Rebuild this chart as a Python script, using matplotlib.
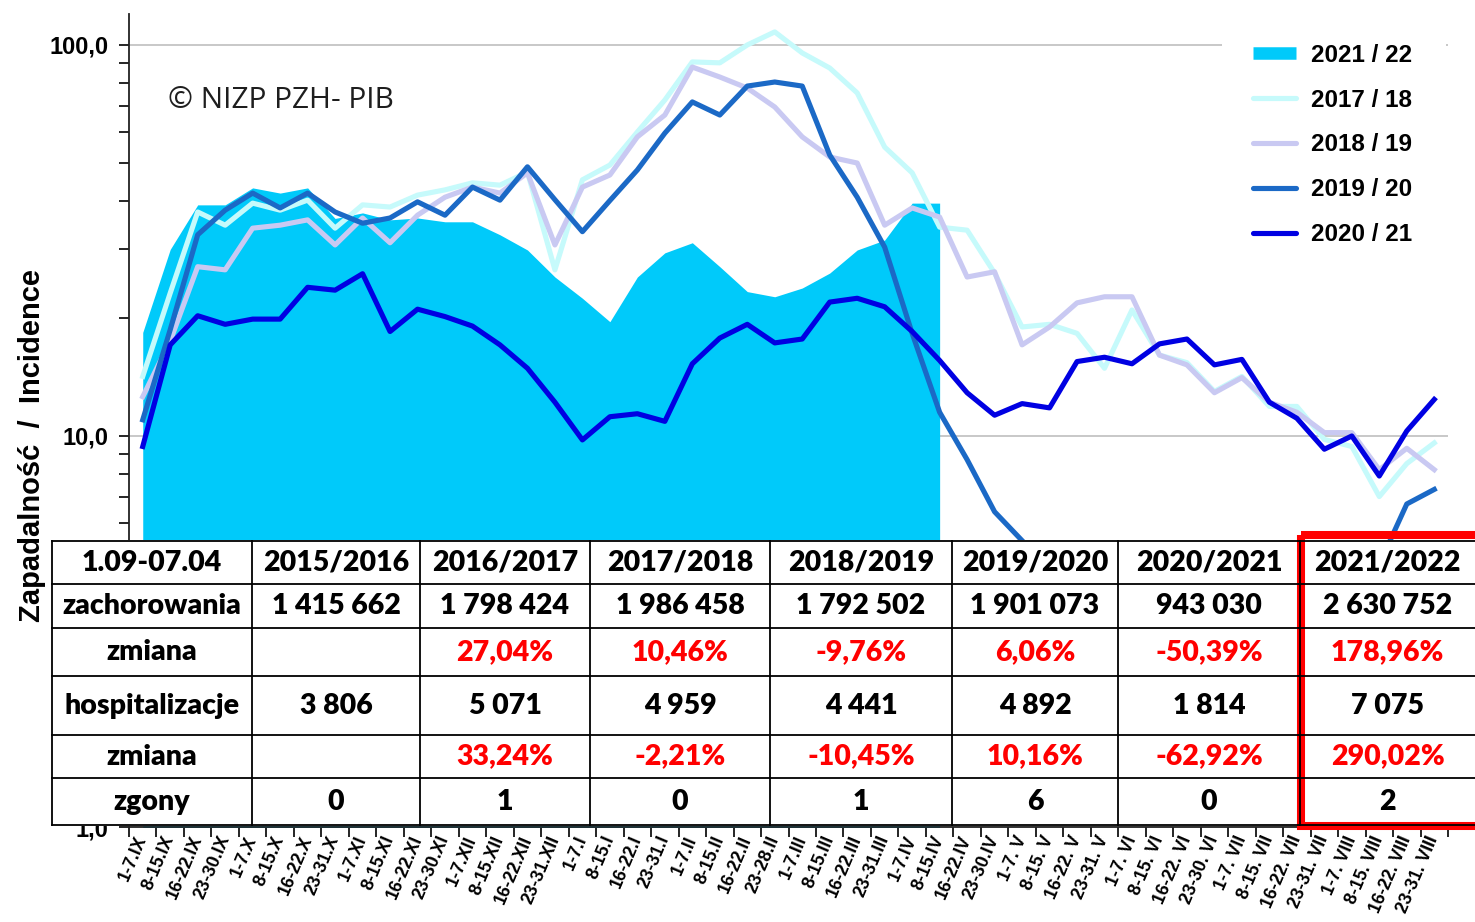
import numpy as np
import matplotlib
matplotlib.use("Agg")
import matplotlib.pyplot as plt
from matplotlib.lines import Line2D
from matplotlib.patches import Rectangle
from matplotlib.ticker import FixedLocator, LogLocator, FuncFormatter, NullFormatter

plt.rcParams["font.family"] = ["Liberation Sans", "DejaVu Sans"]
plt.rcParams["font.weight"] = "bold"

# weekly periods, 1 Sep .. 31 Aug
weeks = [
    "1-7.IX", "8-15.IX", "16-22.IX", "23-30.IX",
    "1-7.X", "8-15.X", "16-22.X", "23-31.X",
    "1-7.XI", "8-15.XI", "16-22.XI", "23-30.XI",
    "1-7.XII", "8-15.XII", "16-22.XII", "23-31.XII",
    "1-7.I", "8-15.I", "16-22.I", "23-31.I",
    "1-7.II", "8-15.II", "16-22.II", "23-28.II",
    "1-7.III", "8-15.III", "16-22.III", "23-31.III",
    "1-7.IV", "8-15.IV", "16-22.IV", "23-30.IV",
    "1-7. V", "8-15. V", "16-22. V", "23-31. V",
    "1-7. VI", "8-15. VI", "16-22. VI", "23-30. VI",
    "1-7. VII", "8-15. VII", "16-22. VII", "23-31. VII",
    "1-7. VIII", "8-15. VIII", "16-22. VIII", "23-31. VIII",
]

# incidence per 100 000
inc_2122 = [18.4, 30.0, 39.0, 39.0, 43.1, 41.8, 43.1, 36.0, 37.2, 35.7, 36.1, 35.3,
            35.3, 32.7, 29.9, 25.5, 22.5, 19.6, 25.5, 29.4, 31.2, 27.1, 23.4, 22.7,
            23.9, 26.1, 29.9, 31.7, 39.4, 39.4]
inc_1718 = [14.2, 23.2, 37.4, 34.6, 39.4, 37.8, 40.1, 34.0, 39.0, 38.5, 41.3, 42.6,
            44.4, 43.8, 47.3, 26.6, 45.2, 49.3, 59.9, 72.3, 90.5, 90.0, 100.0, 108.0,
            95.4, 87.3, 75.4, 54.8, 47.1, 34.2, 33.6, 26.1, 19.0, 19.3, 18.3, 14.9,
            21.0, 16.1, 15.4, 13.0, 14.2, 11.9, 11.9, 9.8, 9.4, 7.0, 8.5, 9.6]
inc_1819 = [12.6, 17.5, 27.1, 26.6, 34.0, 34.6, 35.7, 30.8, 36.1, 31.2, 36.7, 40.8,
            43.3, 41.8, 47.1, 30.8, 43.3, 46.5, 58.2, 66.2, 87.8, 82.8, 77.6, 69.4,
            58.2, 51.7, 49.9, 34.6, 38.3, 36.3, 25.5, 26.3, 17.1, 19.0, 21.9, 22.7,
            22.7, 16.1, 15.2, 12.9, 14.1, 12.2, 11.5, 10.2, 10.2, 8.2, 9.3, 8.2]
# values hidden under the table are left empty
inc_1920 = [11.0, 18.7, 32.7, 37.8, 41.8, 38.3, 41.8, 37.4, 35.0, 36.1, 39.7, 36.7,
            43.3, 40.1, 48.8, 40.2, 33.3, 40.0, 47.9, 59.5, 71.5, 66.2, 78.5, 80.4,
            78.5, 52.3, 40.8, 30.4, 18.3, 11.5, 8.7, 6.4, 5.4, np.nan, np.nan, np.nan,
            np.nan, np.nan, np.nan, np.nan, np.nan, np.nan, np.nan, np.nan, np.nan, 4.7, 6.7, 7.3]
inc_2021 = [9.4, 17.1, 20.3, 19.3, 19.9, 19.9, 24.0, 23.6, 26.0, 18.5, 21.1, 20.2,
            19.1, 17.1, 14.9, 12.2, 9.77, 11.2, 11.4, 10.9, 15.3, 17.8, 19.3, 17.3,
            17.7, 22.0, 22.5, 21.4, 18.5, 15.6, 12.9, 11.3, 12.1, 11.8, 15.5, 15.9,
            15.3, 17.2, 17.7, 15.2, 15.7, 12.2, 11.1, 9.25, 10.0, 7.9, 10.3, 12.4]

# summary table
row_names = ["1.09-07.04", "zachorowania", "zmiana", "hospitalizacje", "zmiana", "zgony"]
seasons = ["2015/2016", "2016/2017", "2017/2018", "2018/2019", "2019/2020", "2020/2021", "2021/2022"]
cases = ["1 415 662", "1 798 424", "1 986 458", "1 792 502", "1 901 073", "943 030", "2 630 752"]
cases_change = ["", "27,04%", "10,46%", "-9,76%", "6,06%", "-50,39%", "178,96%"]
hosp = ["3 806", "5 071", "4 959", "4 441", "4 892", "1 814", "7 075"]
hosp_change = ["", "33,24%", "-2,21%", "-10,45%", "10,16%", "-62,92%", "290,02%"]
deaths = ["0", "1", "0", "1", "6", "0", "2"]

c_area = "#00CAFA"
c_1718 = "#C6FAFB"
c_1819 = "#C9C9F2"
c_1920 = "#1B69C6"
c_2021 = "#0000E2"

W, H = 1475, 922
fig = plt.figure(figsize=(W / 100, H / 100), dpi=100)
ax = fig.add_axes([129 / W, 1 - 827 / H, (1448 - 129) / W, (827 - 14) / H])

x = np.arange(len(weeks))
ax.fill_between(x[:len(inc_2122)], inc_2122, 0.5, color=c_area, lw=0, zorder=2)
lw = 3.7
ax.plot(x, inc_1718, color=c_1718, lw=lw, zorder=3)
ax.plot(x, inc_1819, color=c_1819, lw=lw, zorder=4)
ax.plot(x, inc_1920, color=c_1920, lw=lw, zorder=5)
ax.plot(x, inc_2021, color=c_2021, lw=lw, zorder=6)

ax.set_yscale("log")
ax.set_ylim(1, 120)
ax.set_xlim(-0.5, len(weeks) - 0.5)
ax.yaxis.set_major_locator(FixedLocator([1, 10, 100]))
ax.yaxis.set_major_formatter(FuncFormatter(lambda v, p: f"{v:.1f}".replace(".", ",")))
ax.yaxis.set_minor_locator(LogLocator(base=10, subs=range(2, 10)))
ax.yaxis.set_minor_formatter(NullFormatter())
ax.tick_params(axis="y", which="both", direction="out", length=7, width=1.2, pad=8, labelsize=17)
ax.grid(axis="y", which="major", color="#c4c4c4", lw=1.3)
ax.set_axisbelow(True)

ax.set_xticks(np.arange(len(weeks) + 1) - 0.5)
ax.set_xticklabels([])
ax.set_xticks(x, minor=True)
ax.set_xticklabels(weeks, minor=True, rotation=67, ha="right", va="center",
                   rotation_mode="anchor", fontsize=12.8)
ax.tick_params(axis="x", which="major", direction="out", length=7, width=1.2)
ax.tick_params(axis="x", which="minor", length=0, pad=7)

for s in ["top", "right"]:
    ax.spines[s].set_visible(False)
for s in ["left", "bottom"]:
    ax.spines[s].set_color("#222222")
    ax.spines[s].set_linewidth(1.3)

# white block behind the legend
ax.add_patch(Rectangle((1222 / W, 1 - 255 / H), 224 / W, 227 / H, transform=fig.transFigure,
                       facecolor="white", edgecolor="none", zorder=8))
handles = [
    Line2D([], [], color=c_area, lw=9, solid_capstyle="butt"),
    Line2D([], [], color=c_1718, lw=lw, solid_capstyle="round"),
    Line2D([], [], color=c_1819, lw=lw, solid_capstyle="round"),
    Line2D([], [], color=c_1920, lw=lw, solid_capstyle="round"),
    Line2D([], [], color=c_2021, lw=lw, solid_capstyle="round"),
]
labels = ["2021 / 22", "2017 / 18", "2018 / 19", "2019 / 20", "2020 / 21"]
leg = ax.legend(handles, labels, loc="upper left", bbox_to_anchor=(1243 / W, 1 - 34 / H),
                bbox_transform=fig.transFigure, frameon=False,
                prop={"size": 17.5, "weight": "bold"}, handlelength=1.8, handletextpad=0.6,
                labelspacing=0.9, borderpad=0.4, borderaxespad=0)
leg.set_zorder(10)

fig.text(32 / W, 1 - 445 / H, "Zapadalność  /  Incidence", rotation=90, va="center",
         ha="center", fontsize=21)
fig.text(168 / W, 1 - 100 / H, "© NIZP PZH- PIB", fontsize=21.5, color="#1e1e1e",
         va="center", ha="left", fontweight="normal", family=["Open Sans", "DejaVu Sans"])

# table over the lower part of the plot
tx = fig.add_axes([52 / W, 1 - 826 / H, (W - 52) / W, (826 - 540) / H])
tx.set_zorder(5)
tx.set_facecolor("white")
tx.set_xlim(52, W)
tx.set_ylim(826, 540)
tx.set_xticks([])
tx.set_yticks([])
for s in tx.spines.values():
    s.set_visible(False)

col_edges = [52, 252, 420, 590, 770, 952, 1118, 1300, W]
row_edges = [541, 584, 628, 676, 735, 778, 825]
for yy in row_edges:
    tx.plot([col_edges[0], W + 5], [yy, yy], color="black", lw=1.3, clip_on=False)
for xx in col_edges[:-1]:
    tx.plot([xx, xx], [row_edges[0], row_edges[-1]], color="black", lw=1.3, clip_on=False)

rows = [seasons, cases, cases_change, hosp, hosp_change, deaths]
red_rows = {2, 4}
tfont = {"family": ["Lato", "DejaVu Sans"], "weight": "heavy", "size": 20.5}
for r, (name, vals) in enumerate(zip(row_names, rows)):
    yc = (row_edges[r] + row_edges[r + 1]) / 2
    tx.text((col_edges[0] + col_edges[1]) / 2, yc, name, ha="center", va="center", **tfont)
    for c, v in enumerate(vals):
        xc = (col_edges[c + 1] + col_edges[c + 2]) / 2
        tx.text(xc, yc, v, ha="center", va="center",
                color="#FF0000" if r in red_rows else "black", **tfont)

tx.add_patch(Rectangle((1301, 535), 300, 291, fill=False, edgecolor="#FF0000",
                       lw=5.8, joinstyle="miter", clip_on=False))

fig.savefig("out.png", dpi=100)
